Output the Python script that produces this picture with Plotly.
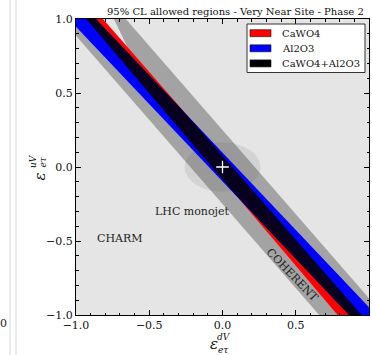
import numpy as np
import plotly.graph_objects as go

# ---------------- data ----------------
# bands are given by the x position of their edges at the listed y values
band_y = [1.0, -1.0]

# COHERENT: two grey strips (lower-left and upper-right branch)
coh_lowleft_left = [-1.10, 0.66]
coh_lowleft_right = [-0.95, 0.80]
coh_upright_y = [1.0, 0.75, -1.0]
coh_upright_left = [-0.741, -0.62, 0.85]
coh_upright_right = [-0.66, -0.44, 1.10]

# CaWO4
red_left = [-0.93, 0.786]
red_right = [-0.816, 0.95]

# Al2O3
blue_left = [-1.05, 0.864]
blue_right = [-0.864, 1.05]

# LHC monojet ellipse: centre and semi-axes
lhc_center = (0.0, 0.0)
lhc_axes = (0.259, 0.167)

best_fit = (0.0, 0.0)

labels = ["CaWO4", "Al2O3", "CaWO4+Al2O3"]
label_colors = ["#ff0000", "#0000ff", "#000000"]

title_text = "95% CL allowed regions - Very Near Site - Phase 2"

# ---------------- layout geometry ----------------
W, H = 372, 355
L, R, T, B = 76, 3, 19, 40
PW, PH = W - L - R, H - T - B
SERIF = "DejaVu Serif"


def px(xp, yp):
    """pixel -> paper coords"""
    return (xp - L) / PW, (H - B - yp) / PH


fig = go.Figure()


def add_poly(ys, left, right, color):
    xs = list(left) + list(right)[::-1] + [left[0]]
    yy = list(ys) + list(ys)[::-1] + [ys[0]]
    fig.add_trace(go.Scatter(x=xs, y=yy, mode="lines", fill="toself",
                             fillcolor=color, line=dict(width=0, color=color),
                             hoverinfo="skip", showlegend=False))


GRAY = "#a3a3a3"
add_poly(band_y, coh_lowleft_left, coh_lowleft_right, GRAY)
add_poly(coh_upright_y, coh_upright_left, coh_upright_right, GRAY)

t = np.linspace(0, 2 * np.pi, 120)
fig.add_trace(go.Scatter(x=lhc_center[0] + lhc_axes[0] * np.cos(t),
                         y=lhc_center[1] + lhc_axes[1] * np.sin(t),
                         mode="lines", fill="toself",
                         fillcolor="rgba(90,90,90,0.13)", line=dict(width=0),
                         hoverinfo="skip", showlegend=False))

add_poly(band_y, red_left, red_right, "#ff0000")
add_poly(band_y, blue_left, blue_right, "#0000ff")

# combined CaWO4+Al2O3 region: overlap of the two bands
ys = np.linspace(-1, 1, 401)
yb = band_y[::-1]
comb_l = np.maximum(np.interp(ys, yb, red_left[::-1]), np.interp(ys, yb, blue_left[::-1]))
comb_r = np.minimum(np.interp(ys, yb, red_right[::-1]), np.interp(ys, yb, blue_right[::-1]))
ok = comb_l < comb_r
add_poly(list(ys[ok]), list(comb_l[ok]), list(comb_r[ok]), "#07001e")

fig.add_trace(go.Scatter(x=[best_fit[0]], y=[best_fit[1]], mode="markers",
                         marker=dict(symbol="cross-thin", size=9,
                                     line=dict(width=1.3, color="white")),
                         hoverinfo="skip", showlegend=False))

# in-plot texts
fig.add_annotation(x=-0.207, y=-0.302, text="LHC monojet", showarrow=False,
                   font=dict(family=SERIF, size=11, color="#222"))
fig.add_annotation(x=-0.702, y=-0.483, text="CHARM", showarrow=False,
                   font=dict(family=SERIF, size=11, color="#222"))
fig.add_annotation(x=0.48, y=-0.73, text="COHERENT", showarrow=False,
                   textangle=46,
                   font=dict(family=SERIF, size=11, color="#222"))

# title
tx, ty = px(235, 11)
fig.add_annotation(x=tx, y=ty, xref="paper", yref="paper", text=title_text,
                   showarrow=False, xanchor="center", yanchor="middle",
                   font=dict(family=SERIF, size=10, color="#111"))

# legend (drawn manually to match the framed matplotlib legend)
x0, y0 = px(247, 24)
x1, y1 = px(365, 72.5)
fig.add_shape(type="rect", xref="paper", yref="paper", x0=x0, y0=y1, x1=x1, y1=y0,
              line=dict(color="#333", width=1), fillcolor="white", layer="above")
for i, (lab, col) in enumerate(zip(labels, label_colors)):
    cy = 33.2 + i * 15.1
    sx0, sy0 = px(250, cy - 3.5)
    sx1, sy1 = px(271, cy + 3.5)
    fig.add_shape(type="rect", xref="paper", yref="paper", x0=sx0, y0=sy1,
                  x1=sx1, y1=sy0, line=dict(color="#111", width=0.6),
                  fillcolor=col, layer="above")
    lx, ly = px(280, cy)
    fig.add_annotation(x=lx, y=ly, xref="paper", yref="paper", text=lab,
                       showarrow=False, xanchor="left", yanchor="middle",
                       font=dict(family=SERIF, size=10, color="#111"))


# axis labels (epsilon with stacked super/subscripts)
def eps_label(c, sup, sub, angle=0):
    for (txt, pos, size) in (("ε", c, 15), (sup[0], sup[1], 9), (sub[0], sub[1], 9)):
        ax_, ay_ = px(*pos)
        fig.add_annotation(x=ax_, y=ay_, xref="paper", yref="paper",
                           text="<i>%s</i>" % txt, showarrow=False,
                           xanchor="center", yanchor="middle", textangle=angle,
                           font=dict(family=SERIF, size=size, color="#111"))


eps_label((213.5, 344), ("dV", (224, 336.5)), ("eτ", (223, 350)))
eps_label((39.5, 177), ("uV", (33, 161)), ("eτ", (42.5, 162)), angle=-90)

# neighbouring-panel remnants at the left edge
for xl in (10, 16):
    a0, b0 = px(xl, 0)
    a1, b1 = px(xl, H)
    fig.add_shape(type="line", xref="paper", yref="paper", x0=a0, y0=b0,
                  x1=a1, y1=b1, line=dict(color="#d8d8d8", width=1))
zx, zy = px(3, 323)
fig.add_annotation(x=zx, y=zy, xref="paper", yref="paper", text="0",
                   showarrow=False, xanchor="center", yanchor="middle",
                   font=dict(family=SERIF, size=11, color="#222"))

axis_common = dict(range=[-1, 1], dtick=0.5, tick0=-1, tickformat=".1f",
                   ticks="inside", ticklen=5, tickwidth=1, tickcolor="black",
                   showgrid=False, zeroline=False, showline=True,
                   linecolor="black", linewidth=1, mirror="allticks",
                   tickfont=dict(family=SERIF, size=11, color="#111"),
                   minor=dict(ticks="inside", dtick=0.1, ticklen=2.5,
                              tickcolor="black", tickwidth=1, showgrid=False))

fig.update_layout(width=W, height=H, margin=dict(l=L, r=R, t=T, b=B),
                  paper_bgcolor="white", plot_bgcolor="#e5e5e5",
                  xaxis=axis_common, yaxis=axis_common, showlegend=False)

fig.write_html("out.html")
